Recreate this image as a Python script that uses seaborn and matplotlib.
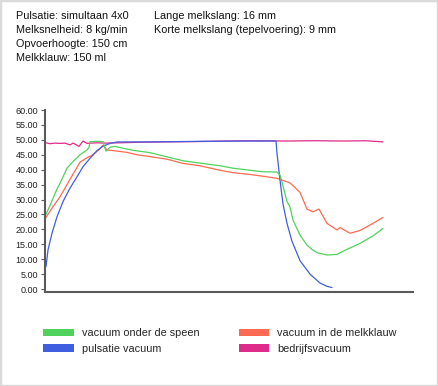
import matplotlib
matplotlib.use("Agg")
import matplotlib.pyplot as plt
import seaborn as sns
import pandas as pd
from matplotlib.patches import Patch, Rectangle

# ---- data (x = sample index, y = vacuum kPa) ----
green_t = [1, 5, 8, 12, 15, 22, 28, 35, 42, 44, 45, 52, 58, 61, 65, 70, 78, 88, 105, 122, 138, 155, 175, 188, 205,
           218, 232, 235, 238, 242, 245, 248, 255, 262, 268, 272, 282, 292, 302, 315, 328, 338]
green_v = [25.0, 28.0, 30.4, 33.5, 35.4, 40.5, 42.7, 45.0, 46.6, 47.5, 49.4, 49.5, 49.4, 46.2, 47.5, 47.8, 47.2,
           46.5, 45.7, 44.3, 43.0, 42.2, 41.3, 40.5, 39.8, 39.3, 39.2, 38.2, 34.5, 29.3, 27.5, 23.1, 18.1,
           14.7, 13.0, 12.2, 11.4, 11.6, 13.3, 15.3, 17.8, 20.3]

red_t = [1, 8, 15, 22, 28, 35, 42, 48, 55, 58, 62, 68, 82, 92, 105, 122, 138, 155, 175, 188, 205, 218, 232, 245,
         255, 262, 268, 274, 282, 292, 295, 305, 315, 328, 338]
red_v = [24.0, 27.6, 30.9, 35.0, 38.5, 42.5, 44.0, 45.0, 47.0, 48.2, 46.6, 46.4, 45.8, 45.0, 44.4, 43.5, 42.1,
         41.3, 39.8, 39.0, 38.4, 37.8, 37.1, 35.6, 32.4, 26.8, 25.9, 26.8, 22.0, 19.8, 20.6, 18.7, 19.6, 22.0, 24.0]

blue_t = [1, 3, 7, 12, 18, 25, 32, 38, 45, 52, 58, 65, 72, 105, 155, 205, 231, 232, 235, 238, 242, 247, 255, 265,
          275, 282, 287]
blue_v = [7.5, 13.1, 18.7, 24.2, 29.3, 33.8, 37.6, 41.0, 43.8, 46.4, 47.9, 48.8, 49.3, 49.3, 49.5, 49.6, 49.6,
          45.5, 36.5, 28.5, 22.0, 16.0, 9.5, 5.0, 2.0, 0.9, 0.5]

pink_t = [1, 5, 10, 15, 20, 25, 28, 31, 34, 38, 42, 46, 52, 60, 75, 95, 120, 150, 180, 210, 240, 270, 300, 320,
          330, 338]
pink_v = [49.0, 48.7, 48.9, 48.8, 48.9, 48.3, 48.9, 48.4, 47.8, 49.6, 48.8, 48.9, 49.0, 48.9, 49.0, 49.2, 49.3,
          49.4, 49.6, 49.7, 49.6, 49.7, 49.6, 49.7, 49.5, 49.3]

series_names = ["vacuum onder de speen", "pulsatie vacuum", "vacuum in de melkklauw", "bedrijfsvacuum"]
colors = {"vacuum onder de speen": "#4fd35c", "pulsatie vacuum": "#3f5fe0",
          "vacuum in de melkklauw": "#ff6a52", "bedrijfsvacuum": "#de2c8a"}
y_ticks = [0, 5, 10, 15, 20, 25, 30, 35, 40, 45, 50, 55, 60]

info_left = ["Pulsatie: simultaan 4x0", "Melksnelheid: 8 kg/min", "Opvoerhoogte: 150 cm", "Melkklauw: 150 ml"]
info_right = ["Lange melkslang: 16 mm", "Korte melkslang (tepelvoering): 9 mm"]

frames = []
for name, t, v in [("vacuum onder de speen", green_t, green_v), ("pulsatie vacuum", blue_t, blue_v),
                   ("vacuum in de melkklauw", red_t, red_v), ("bedrijfsvacuum", pink_t, pink_v)]:
    frames.append(pd.DataFrame({"t": t, "v": v, "serie": name}))
df = pd.concat(frames, ignore_index=True)

sns.set_theme(style="white")
plt.rcParams["font.family"] = ["Liberation Sans", "DejaVu Sans"]

W, H = 438, 386
fig = plt.figure(figsize=(W / 100, H / 100), dpi=100)
ax = fig.add_axes([45 / W, (H - 292) / H, (413 - 45) / W, (292 - 110) / H])

sns.lineplot(data=df, x="t", y="v", hue="serie", hue_order=series_names[::-1], palette=colors,
             sort=False, estimator=None, linewidth=0.9, legend=False, ax=ax)

ax.set_xlim(0, 368)
ax.set_ylim(-1.0, 60)
ax.set_yticks(y_ticks)
ax.set_yticklabels([f"{v:.2f}" for v in y_ticks])
ax.set_xticks([])
ax.set_xlabel("")
ax.set_ylabel("")
for s in ["top", "right"]:
    ax.spines[s].set_visible(False)
for s in ["left", "bottom"]:
    ax.spines[s].set_color("#5a5a5a")
    ax.spines[s].set_linewidth(1.5)
ax.spines["left"].set_bounds(-1.0, 60)
ax.tick_params(axis="y", left=True, length=3, width=0.8, color="#5a5a5a", labelsize=6.5,
               labelcolor="#222222", pad=2)

# header texts
for i, s in enumerate(info_left):
    fig.text(16 / W, 1 - (16 + i * 14) / H, s, fontsize=7.8, color="#111111", va="center", ha="left")
for i, s in enumerate(info_right):
    fig.text(154 / W, 1 - (16 + i * 14) / H, s, fontsize=7.8, color="#111111", va="center", ha="left")

# legend
handles = [Patch(facecolor=colors[n], edgecolor="none", label=n) for n in series_names]
fig.legend(handles=handles, ncol=2, loc="upper left", bbox_to_anchor=(40 / W, 1 - 325 / H),
           frameon=False, fontsize=7.8, handlelength=2.85, handleheight=0.72, handletextpad=0.72,
           columnspacing=3.6, labelspacing=0.5, borderaxespad=0, borderpad=0.3)

fig.patches.append(Rectangle((0, 0), 1, 1, transform=fig.transFigure, fill=False,
                             edgecolor="#dadada", linewidth=2.5))

fig.savefig("out.png", dpi=100, facecolor="white")
